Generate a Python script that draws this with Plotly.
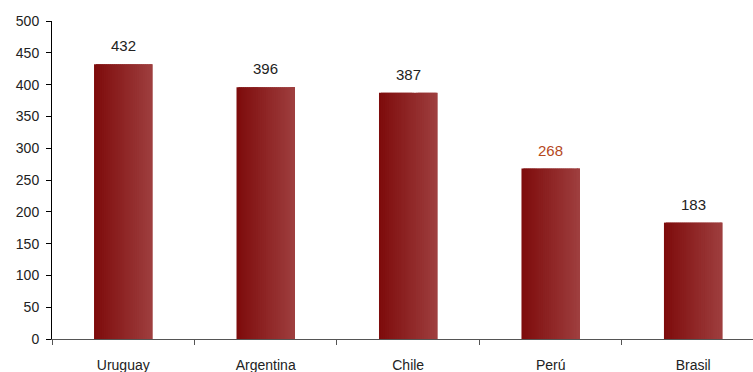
import plotly.graph_objects as go

categories = ["Uruguay", "Argentina", "Chile", "Perú", "Brasil"]
values = [432, 396, 387, 268, 183]
label_colors = ["#222222", "#222222", "#222222", "#B5481C", "#222222"]

FONT = "Liberation Sans, Arial"
BAR_W = 0.41
N = 30
c0 = (0x7E, 0x0C, 0x0C)
c1 = (0x9E, 0x3E, 0x3E)

fig = go.Figure()
for i in range(N):
    t = i / (N - 1)
    col = "rgb({},{},{})".format(*[round(a + (b - a) * t) for a, b in zip(c0, c1)])
    step = BAR_W / N
    w = min(step * 2, BAR_W - i * step)
    fig.add_trace(go.Bar(
        x=categories, y=values,
        width=w, offset=-BAR_W / 2 + i * step,
        marker=dict(color=col, line=dict(width=0)),
        showlegend=False, hoverinfo="skip",
    ))

for c, v, lc in zip(categories, values, label_colors):
    fig.add_annotation(x=c, y=v, text=str(v), showarrow=False, yanchor="bottom",
                       yshift=8, font=dict(family=FONT, size=15, color=lc))

fig.update_layout(
    width=753, height=372,
    margin=dict(l=52, r=0, t=21, b=33, autoexpand=False),
    paper_bgcolor="white", plot_bgcolor="white",
    barmode="overlay",
    font=dict(family=FONT, size=14, color="#222222"),
    xaxis=dict(
        type="category", range=[-0.5, 4.42], automargin=False,
        showline=True, linecolor="#555555", linewidth=1,
        ticks="outside", tickson="boundaries", ticklen=5, tickcolor="#555555",
        ticklabelstandoff=13, showgrid=False, zeroline=False,
        tickfont=dict(family=FONT, size=14, color="#222222"),
    ),
    yaxis=dict(
        range=[0, 500], dtick=50, tick0=0, automargin=False,
        showline=True, linecolor="black", linewidth=1,
        ticks="outside", ticklen=5, tickcolor="black",
        ticklabelstandoff=4,
        showgrid=False, zeroline=False,
        tickfont=dict(family=FONT, size=14, color="#222222"),
    ),
)

fig.write_html("out.html", config={"displayModeBar": False},
               post_script="document.body.style.margin='0px';")
